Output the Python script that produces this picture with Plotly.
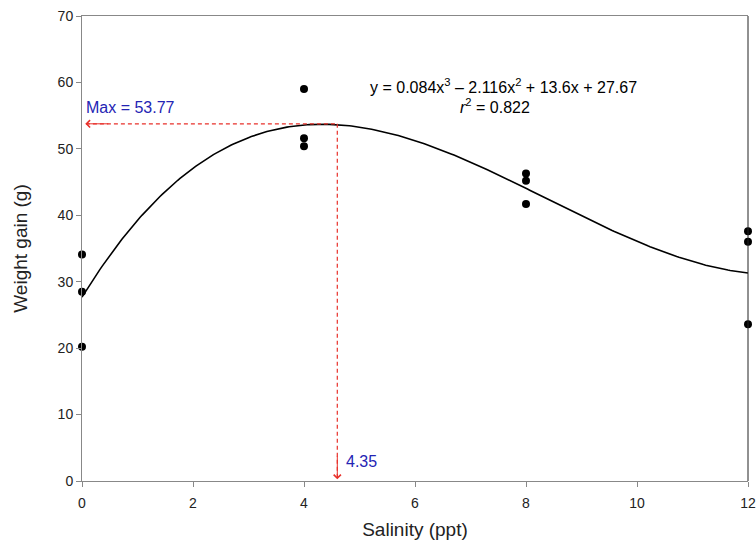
import numpy as np
import plotly.graph_objects as go

# Observed data
salinity = [0, 0, 0, 4, 4, 4, 8, 8, 8, 12, 12, 12]
weight_gain = [34.1, 28.5, 20.2, 59.0, 51.6, 50.4, 46.3, 45.2, 41.7, 37.6, 36.0, 23.6]

# Fitted cubic coefficients (from the chart's equation), highest power first
fit_coefs = [0.084, -2.116, 13.6, 27.67]
max_value = 53.77
max_x_label = "4.35"
max_x_drawn = 4.6  # where the dashed guide is drawn in the picture

x_ticks = [0, 2, 4, 6, 8, 10, 12]
y_ticks = [0, 10, 20, 30, 40, 50, 60, 70]

xs = np.linspace(0, 12, 300)
ys = np.polyval(fit_coefs, xs)

red = "#e8302a"
blue = "#2424b4"
FONT = "Liberation Sans, Arial"

fig = go.Figure()
fig.add_trace(go.Scatter(x=xs, y=ys, mode="lines",
                         line=dict(color="black", width=1.6),
                         hoverinfo="skip", cliponaxis=False))
fig.add_trace(go.Scatter(x=salinity, y=weight_gain, mode="markers",
                         marker=dict(color="black", size=8),
                         cliponaxis=False))

# dashed guides
fig.add_shape(type="line", x0=0.07, x1=max_x_drawn, y0=max_value, y1=max_value,
              line=dict(color=red, width=1.2, dash="4px,3px"))
fig.add_shape(type="line", x0=max_x_drawn, x1=max_x_drawn, y0=max_value, y1=0.25,
              line=dict(color=red, width=1.2, dash="4px,3px"))
# right frame line
fig.add_shape(type="line", xref="paper", yref="paper", x0=1, x1=1, y0=0, y1=1,
              line=dict(color="#222222", width=1))

# arrowheads
fig.add_annotation(x=0.06, y=max_value, ax=0.5, ay=max_value, axref="x", ayref="y",
                   text="", showarrow=True, arrowhead=4, arrowsize=1.4,
                   arrowwidth=1, arrowcolor=red)
fig.add_annotation(x=max_x_drawn, y=0.25, ax=max_x_drawn, ay=4, axref="x", ayref="y",
                   text="", showarrow=True, arrowhead=4, arrowsize=1.4,
                   arrowwidth=1, arrowcolor=red)

fig.add_annotation(x=0.03, y=56.2, text="Max = " + f"{max_value:.2f}", showarrow=False,
                   xanchor="left", yanchor="middle",
                   font=dict(color=blue, size=16, family=FONT))
fig.add_annotation(x=4.72, y=3.0, text=max_x_label, showarrow=False,
                   xanchor="left", yanchor="middle",
                   font=dict(color=blue, size=16, family=FONT))

eq = ("y = %.3fx<sup>3</sup> – %.3fx<sup>2</sup> + %.1fx + %.2f"
      % (fit_coefs[0], -fit_coefs[1], fit_coefs[2], fit_coefs[3]))
fig.add_annotation(x=7.6, y=59.4, text=eq, showarrow=False,
                   xanchor="center", yanchor="middle",
                   font=dict(color="black", size=16, family=FONT))
fig.add_annotation(x=7.45, y=56.5, text="<i>r</i><sup>2</sup> = 0.822", showarrow=False,
                   xanchor="center", yanchor="middle",
                   font=dict(color="black", size=16, family=FONT))

fig.update_layout(
    width=756, height=545,
    margin=dict(l=82, r=8, t=16, b=64),
    paper_bgcolor="white", plot_bgcolor="white",
    showlegend=False,
    font=dict(family=FONT, size=14, color="#222222"),
    xaxis=dict(range=[0, 12], tickvals=x_ticks, showgrid=False, zeroline=False,
               showline=True, linecolor="#888888", linewidth=1, mirror=True,
               ticks="outside", ticklen=5, tickcolor="#888888", automargin=False,
               ticklabelstandoff=4,
               title=dict(text="Salinity (ppt)", font=dict(size=19), standoff=12)),
    yaxis=dict(range=[0, 70], tickvals=y_ticks, showgrid=False, zeroline=False,
               showline=True, linecolor="#888888", linewidth=1,
               ticks="outside", ticklen=5, tickcolor="#888888", automargin=False,
               title=dict(text="Weight gain (g)", font=dict(size=19), standoff=24)),
)

fig.write_html("out.html", config={"displayModeBar": False},
               post_script="document.body.style.margin='0';document.body.style.overflow='hidden';")
